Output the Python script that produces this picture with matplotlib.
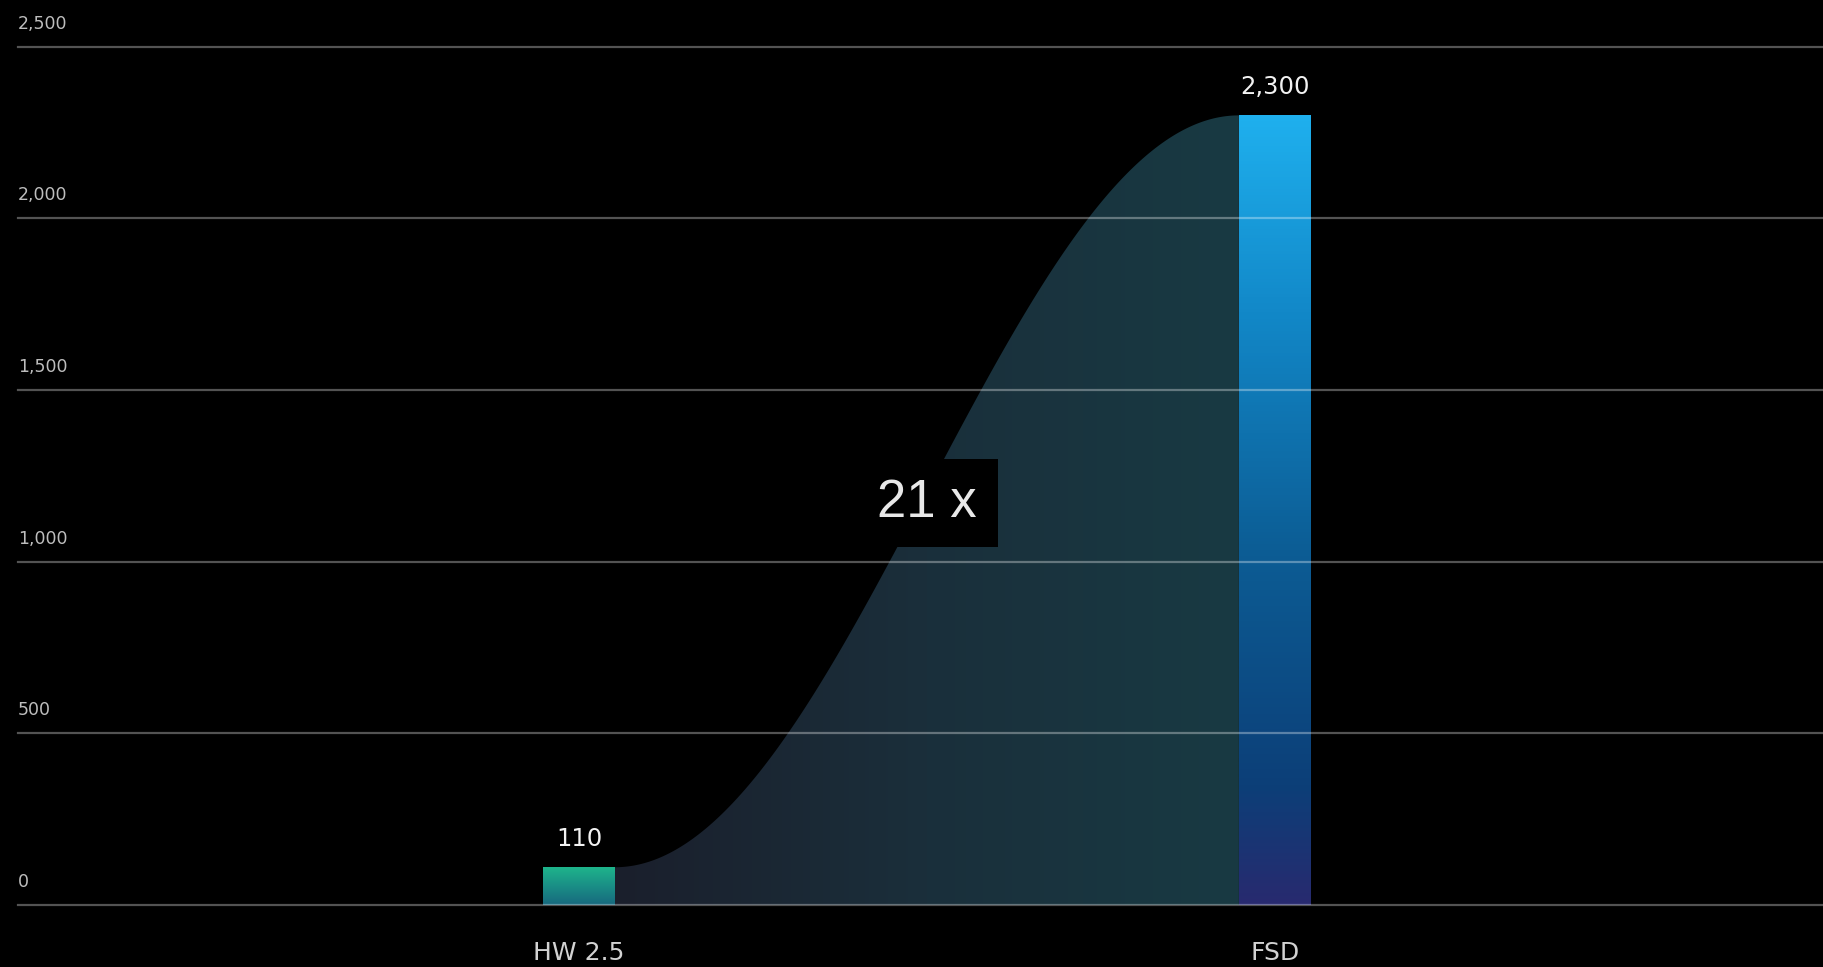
import numpy as np
import matplotlib
matplotlib.use("Agg")
import matplotlib.pyplot as plt
from matplotlib.colors import LinearSegmentedColormap
from matplotlib.patches import Polygon, Rectangle
from matplotlib.transforms import offset_copy

# chart data
categories = ["HW 2.5", "FSD"]
values = [110, 2300]
value_labels = ["110", "2,300"]
y_ticks = [0, 500, 1000, 1500, 2000, 2500]
y_tick_labels = ["0", "500", "1,000", "1,500", "2,000", "2,500"]
ratio_label = "21 x"

W, H = 1824, 967
BAR_W = 0.1034

fig = plt.figure(figsize=(W / 100, H / 100), dpi=100, facecolor="black")
ax = fig.add_axes([18 / W, 62 / H, 1 - 18 / W, (905 - 46.7) / H])
ax.set_facecolor("black")
ax.axis("off")

x = np.arange(len(categories))

# gradient colormaps for the two bars and the connecting area
bar_cmaps = [
    LinearSegmentedColormap.from_list("hw", ["#17687e", "#1a8f86", "#1eb48b"]),
    LinearSegmentedColormap.from_list(
        "fsd", [(0, "#282a6f"), (0.15, "#0c3f78"), (0.45, "#0c5d95"),
                (0.75, "#1288c8"), (1, "#1fb0ee")]),
]
area_cmap = LinearSegmentedColormap.from_list("area", ["#1b1f2c", "#1a2f3b", "#183a43"])

# connecting S-shaped area between bar tops
x0 = x[0] + BAR_W / 2
x1 = x[1] - BAR_W / 2
xs = np.linspace(x0, x1, 300)
t = (xs - x0) / (x1 - x0)
ys = values[0] + (values[1] - values[0]) * (1 - np.cos(np.pi * t)) / 2
verts = np.vstack([[x0, 0], np.column_stack([xs, ys]), [x1, 0]])
area = Polygon(verts, closed=True, facecolor="none", edgecolor="none")
ax.add_patch(area)
grad = np.linspace(0, 1, 256).reshape(1, -1)
im = ax.imshow(grad, cmap=area_cmap, aspect="auto",
               extent=[x0, x1, 0, values[1]], zorder=1)
im.set_clip_path(area)

# bars with vertical gradients
bars = ax.bar(x, values, width=BAR_W, color="none", edgecolor="none", zorder=2)
vgrad = np.linspace(1, 0, 256).reshape(-1, 1)
for bar, cmap in zip(bars, bar_cmaps):
    bx, bw, bh = bar.get_x(), bar.get_width(), bar.get_height()
    bim = ax.imshow(vgrad, cmap=cmap, aspect="auto",
                    extent=[bx, bx + bw, 0, bh], zorder=2)
    bim.set_clip_path(bar)

ax.set_xlim(-0.806, 1.789)
ax.set_ylim(0, 2500)

# gridlines over everything, tick labels above each line
tick_tr = offset_copy(ax.get_yaxis_transform(), fig=fig, x=0, y=23, units="dots")
for yv, lab in zip(y_ticks, y_tick_labels):
    ax.axhline(yv, color="white", alpha=0.33, lw=1.6, zorder=4, clip_on=False)
    ax.text(0, yv, lab, transform=tick_tr, ha="left", va="center",
            fontsize=12.5, color="#bdbdbd", family="DejaVu Sans")

# value labels above bars
for bar, lab in zip(bars, value_labels):
    ax.annotate(lab, (bar.get_x() + bar.get_width() / 2, bar.get_height()),
                xytext=(0, 12), textcoords="offset points", ha="center",
                va="bottom", fontsize=17.5, color="#f2f2f2", family="DejaVu Sans")

# category labels
for xi, lab in zip(x, categories):
    ax.text(xi, -0.0555, lab, transform=ax.get_xaxis_transform(), ha="center",
            va="center", fontsize=18, color="#d2d2d2", family="DejaVu Sans")

# ratio label on a black box
mid_x = (x[0] + x[1]) / 2
mid_y = 1171
ax.add_patch(Rectangle((mid_x - 0.103, mid_y - 129), 0.205, 257,
                       facecolor="black", edgecolor="none", zorder=5))
ax.text(mid_x, mid_y, ratio_label, ha="center", va="center", fontsize=38,
        color="#e8e8e8", family="Liberation Sans", zorder=6)

fig.savefig("out.png", dpi=100, facecolor="black")
